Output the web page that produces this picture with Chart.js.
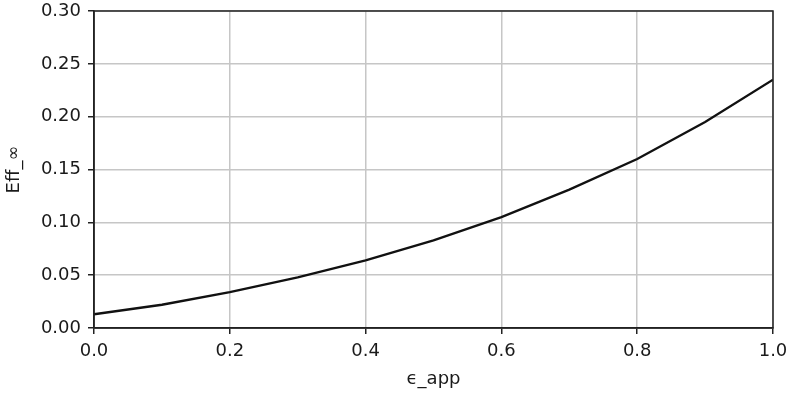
<!DOCTYPE html>
<html>
<head>
<meta charset="utf-8">
<script src="https://cdn.jsdelivr.net/npm/chart.js@4"></script>
<style>
  html, body { margin: 0; padding: 0; background: #fff; }
  #wrap { width: 787px; height: 394px; }
</style>
</head>
<body>
<div id="wrap"><canvas id="grafica"></canvas></div>
<script>
const epsApp = [0.0, 0.1, 0.2, 0.3, 0.4, 0.5, 0.6, 0.7, 0.8, 0.9, 1.0];
const effInf = [0.013, 0.022, 0.034, 0.048, 0.064, 0.083, 0.105, 0.131, 0.160, 0.195, 0.235];
const xTitulo = 'ϵ_app';
const yTitulo = 'Eff_∞';

// marco completo alrededor del area (estilo matplotlib)
const marco = {
    id: 'marco',
    afterDraw(chart) {
        const a = chart.chartArea;
        const ctx = chart.ctx;
        ctx.save();
        ctx.strokeStyle = '#222';
        ctx.lineWidth = 1.5;
        ctx.strokeRect(a.left, a.top, a.right - a.left, a.bottom - a.top);
        ctx.restore();
    }
};

const ctx = document.getElementById('grafica').getContext('2d');
new Chart(ctx, {
    type: 'line',
    data: {
        datasets: [{
            data: epsApp.map((x, i) => ({ x: x, y: effInf[i] })),
            borderColor: '#111',
            borderWidth: 2.3,
            pointRadius: 0,
            tension: 0,
            fill: false
        }]
    },
    options: {
        responsive: true,
        maintainAspectRatio: false,
        animation: false,
        layout: { padding: { top: 11, right: 14, left: 0, bottom: 0 } },
        plugins: {
            legend: { display: false },
            tooltip: { enabled: false }
        },
        scales: {
            x: {
                type: 'linear',
                min: 0,
                max: 1,
                afterFit: s => { s.height = 66; s.paddingLeft = 0; s.paddingRight = 0; },
                ticks: {
                    stepSize: 0.2,
                    color: '#1a1a1a',
                    font: { family: 'DejaVu Sans', size: 18 },
                    padding: 7,
                    maxRotation: 0,
                    callback: v => v.toFixed(1)
                },
                grid: { color: '#c6c6c6', lineWidth: 1.5, tickColor: '#222', tickLength: 6 },
                border: { color: '#222', width: 1.5 },
                title: {
                    display: true,
                    text: xTitulo,
                    color: '#1a1a1a',
                    font: { family: 'DejaVu Sans', size: 18 },
                    padding: { top: 0 }
                }
            },
            y: {
                min: 0,
                max: 0.3,
                afterFit: s => { s.width = 94; s.paddingTop = 0; s.paddingBottom = 0; },
                ticks: {
                    stepSize: 0.05,
                    color: '#1a1a1a',
                    font: { family: 'DejaVu Sans', size: 18 },
                    padding: 7,
                    callback: v => v.toFixed(2)
                },
                grid: { color: '#c6c6c6', lineWidth: 1.5, tickColor: '#222', tickLength: 6 },
                border: { color: '#222', width: 1.5 },
                title: {
                    display: true,
                    text: yTitulo,
                    color: '#1a1a1a',
                    font: { family: 'DejaVu Sans', size: 18 },
                    padding: { bottom: 0 }
                }
            }
        }
    },
    plugins: [marco]
});
</script>
</body>
</html>
